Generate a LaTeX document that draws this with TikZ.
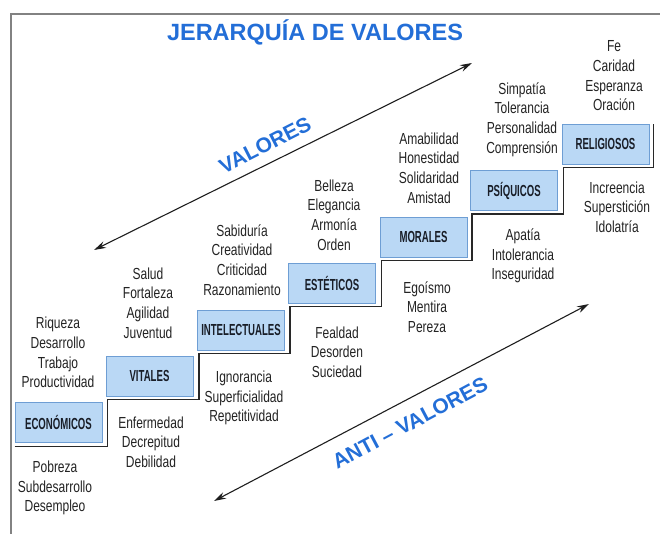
\documentclass[tikz,border=0pt]{standalone}
\usepackage{fontspec}
\setmainfont{Liberation Sans}
\newfontfamily\narrowfont{Liberation Sans}[FakeStretch=0.75]
\newfontfamily\boxlabelfont{Liberation Sans}[FakeStretch=0.6]
\usetikzlibrary{positioning}
\usetikzlibrary{arrows.meta}

\begin{document}
\begin{tikzpicture}[
        x=1pt, y=-1pt,
        level/.style={draw=boxline, fill=boxfill, line width=0.7pt, minimum width=87pt, minimum height=40pt, inner sep=0pt, font=\boxlabelfont\bfseries\fontsize{16}{18}\selectfont, text=boxtext},
        words/.style={align=center, inner sep=0pt, font=\narrowfont\fontsize{16}{19.7}\selectfont, text=wordtext},
        banner/.style={inner sep=0pt, font=\bfseries\fontsize{21}{25}\selectfont, text=titleblue},
        twoway/.style={{Stealth[length=12pt,width=7pt]}-{Stealth[length=12pt,width=7pt]}, line width=1.1pt, draw=arrowgray},
    ]
        \definecolor{titleblue}{RGB}{35,110,215}
        \definecolor{boxfill}{RGB}{186,216,245}
        \definecolor{boxline}{RGB}{110,158,212}
        \definecolor{boxtext}{RGB}{25,30,40}
        \definecolor{wordtext}{RGB}{35,35,35}
        \definecolor{stairline}{RGB}{40,40,40}
        \definecolor{arrowgray}{RGB}{30,30,30}
        \definecolor{framegray}{RGB}{130,130,130}

        \useasboundingbox (0,0) rectangle (663,534);

        % Frame
        \draw[framegray, line width=1.3pt] (11,534) -- (11,14) -- (660,14);

        % Title
        \node[banner, font=\bfseries\fontsize{23.5}{27}\selectfont] (title) at (315,32) {JERARQUÍA DE VALORES};

        % Steps
        \node[level] (econ) at (58.5,422) {ECONÓMICOS};
        \node[level] (vital) at (149.5,376) {VITALES};
        \node[level] (intel) at (241,330) {INTELECTUALES};
        \node[level] (estet) at (332,283) {ESTÉTICOS};
        \node[level] (moral) at (423.5,237) {MORALES};
        \node[level] (psiq) at (514,190.5) {PSÍQUICOS};
        \node[level] (relig) at (605.5,144) {RELIGIOSOS};

        % Stair line
        \draw[stairline, line width=1.6pt]
            ([yshift=-4pt]econ.south west) -| ([xshift=2pt,yshift=-3pt]vital.south west)
            -| ([xshift=2pt,yshift=-3pt]intel.south west)
            -| ([xshift=2pt,yshift=-3pt]estet.south west)
            -| ([xshift=2pt,yshift=-3pt]moral.south west)
            -| ([xshift=2pt,yshift=-3pt]psiq.south west)
            -| ([xshift=2pt,yshift=-3pt]relig.south west)
            -- ([xshift=4pt,yshift=-3pt]relig.south east)
            -- ([xshift=4pt]relig.north east);

        % Values
        \node[words] (econup) at (58,352.5) {Riqueza\\Desarrollo\\Trabajo\\Productividad};
        \node[words] (vitalup) at (148,303) {Salud\\Fortaleza\\Agilidad\\Juventud};
        \node[words] (intelup) at (242,260) {Sabiduría\\Creatividad\\Criticidad\\Razonamiento};
        \node[words] (estetup) at (334,215) {Belleza\\Elegancia\\Armonía\\Orden};
        \node[words] (moralup) at (429,168) {Amabilidad\\Honestidad\\Solidaridad\\Amistad};
        \node[words] (psiqup) at (522,119.5) {Simpatía\\Tolerancia\\Personalidad\\Comprensión};
        \node[words] (religup) at (614,76) {Fe\\Caridad\\Esperanza\\Oración};

        % Anti-values
        \node[words] (econdown) at (55,488) {Pobreza\\Subdesarrollo\\Desempleo};
        \node[words] (vitaldown) at (151,442) {Enfermedad\\Decrepitud\\Debilidad};
        \node[words] (inteldown) at (244,398) {Ignorancia\\Superficialidad\\Repetitividad};
        \node[words] (estetdown) at (337,352) {Fealdad\\Desorden\\Suciedad};
        \node[words] (moraldown) at (427,307) {Egoísmo\\Mentira\\Pereza};
        \node[words] (psiqdown) at (523,256) {Apatía\\Intolerancia\\Inseguridad};
        \node[words] (religdown) at (617,207) {Increencia\\Superstición\\Idolatría};

        % Arrows
        \coordinate (valA) at (94,250);
        \coordinate (valB) at (472,63);
        \coordinate (antiA) at (214,501);
        \coordinate (antiB) at (589,304);
        \draw[twoway] (valA) -- (valB);
        \draw[twoway] (antiA) -- (antiB);

        \node[banner, rotate=27] (valtext) at (265,145) {VALORES};
        \node[banner, rotate=28] (antitext) at (410,423) {ANTI – VALORES};
    \end{tikzpicture}
\end{document}
